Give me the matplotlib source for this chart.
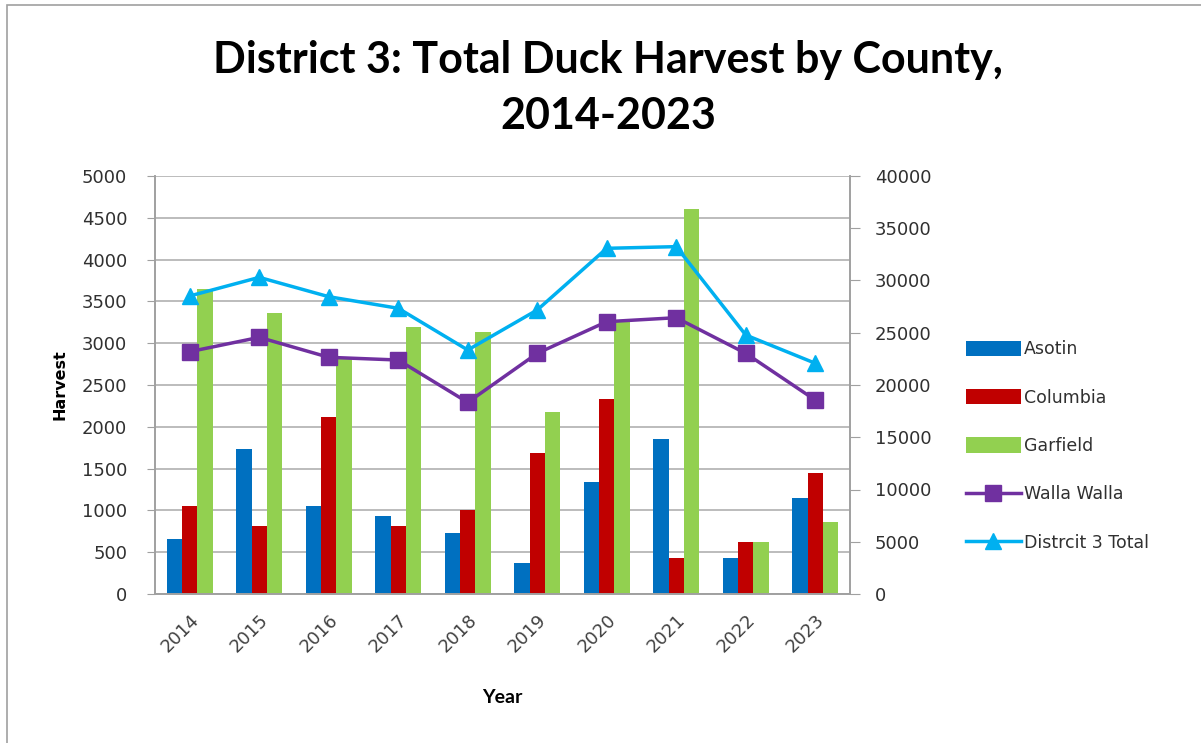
import matplotlib.pyplot as plt
import numpy as np
from matplotlib.patches import Rectangle

plt.rcParams['font.family'] = ['Lato', 'DejaVu Sans']

years = ['2014', '2015', '2016', '2017', '2018', '2019', '2020', '2021', '2022', '2023']
asotin = [654, 1731, 1056, 937, 726, 367, 1344, 1850, 435, 1152]
columbia = [1056, 817, 2113, 817, 1005, 1683, 2329, 435, 626, 1444]
garfield = [3645, 3357, 2807, 3190, 3138, 2181, 3257, 4601, 626, 865]
walla_walla = [23190, 24560, 22650, 22390, 18340, 23030, 26060, 26440, 23030, 18560]
district_total = [28520, 30300, 28450, 27340, 23350, 27180, 33080, 33240, 24780, 22080]

W, H = 1201, 743
fig = plt.figure(figsize=(W / 100, H / 100), dpi=100)

# outer chart border (only top/left visible in the reference)
fig.patches.append(Rectangle((7 / W, -0.1), 1.2, 1 - 5 / H + 0.1, transform=fig.transFigure,
                             fill=False, edgecolor='#a0a0a0', linewidth=1.2))

ax = fig.add_axes([155 / W, 1 - 594 / H, (850 - 155) / W, (594 - 176) / H])
ax2 = ax.twinx()

x = np.arange(len(years))
bw = 0.22
ax.bar(x - bw, asotin, bw, color='#0070C0', label='Asotin')
ax.bar(x, columbia, bw, color='#C00000', label='Columbia')
ax.bar(x + bw, garfield, bw, color='#92D050', label='Garfield')

ax2.plot(x, walla_walla, color='#7030A0', linewidth=2.5, marker='s', markersize=12, label='Walla Walla')
ax2.plot(x, district_total, color='#00B0F0', linewidth=2.5, marker='^', markersize=12, label='Distrcit 3 Total')

tick_font = {'family': 'DejaVu Sans', 'size': 13}

ax.set_xlim(-0.5, len(years) - 0.5)
ax.set_ylim(0, 5000)
ax2.set_ylim(0, 40000)
ax.set_yticks(np.arange(0, 5001, 500))
ax2.set_yticks(np.arange(0, 40001, 5000))
ax.set_xticks(x)
ax.set_xticklabels(years, rotation=45, ha='right', rotation_mode='anchor', color='#404040', fontdict=tick_font)
for lab in ax.get_yticklabels() + ax2.get_yticklabels():
    lab.set_fontfamily('DejaVu Sans')
ax.tick_params(axis='x', length=0, pad=12)
ax.tick_params(axis='y', labelsize=13, labelcolor='#303030', color='#a0a0a0', length=6, pad=14)
ax2.tick_params(axis='y', labelsize=13, labelcolor='#303030', color='#a0a0a0', length=7, pad=11)

ax.set_axisbelow(True)
ax.yaxis.grid(True, color='#b0b0b0', linewidth=1.2)
for a in (ax, ax2):
    for side in ('left', 'right', 'bottom'):
        a.spines[side].set_color('#a0a0a0')
        a.spines[side].set_linewidth(1.2)
    a.spines['top'].set_visible(False)

ax.set_ylabel('Harvest', fontsize=11.5, fontweight='bold', family='DejaVu Sans', labelpad=10)
ax.set_xlabel('Year', fontsize=14, fontweight='bold', labelpad=24)

fig.text(608 / W, 1 - 88 / H, 'District 3: Total Duck Harvest by County,\n2014-2023',
         ha='center', va='center', fontsize=31, fontweight='bold', linespacing=1.5)

h1, l1 = ax.get_legend_handles_labels()
h2, l2 = ax2.get_legend_handles_labels()
fig.legend(h1 + h2, l1 + l2, loc='center left', bbox_to_anchor=(950 / W, 1 - 446 / H),
           frameon=False, prop={'family': 'DejaVu Sans', 'size': 12.5}, handlelength=3.2,
           handleheight=1.0, labelspacing=1.75, handletextpad=0.15, labelcolor='#303030')

fig.savefig('out.png', dpi=100)
